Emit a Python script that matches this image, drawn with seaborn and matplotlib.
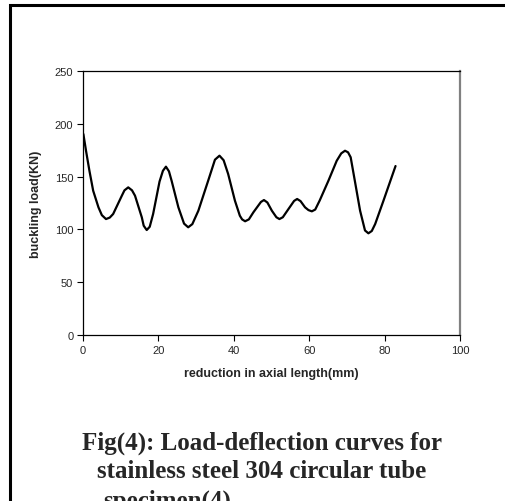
import matplotlib
matplotlib.use("Agg")
import matplotlib.pyplot as plt
import seaborn as sns
import pandas as pd
from matplotlib.patches import Rectangle

# Values
reduction_mm = [0.1, 0.8, 1.7, 2.7, 4.1, 5.0, 6.1, 7.1, 8.0, 10.3, 11.0, 12.0, 13.0, 13.8, 15.6,
                16.1, 16.9, 17.7, 18.6, 20.3, 21.2, 22.0, 22.8, 23.5, 25.3, 26.8, 27.9, 29.0,
                30.6, 33.2, 35.0, 36.2, 37.3, 38.5, 40.3, 41.6, 42.2, 43.0, 44.0, 45.2,
                47.2, 48.0, 48.9, 50.1, 51.3, 52.1, 53.0, 54.5, 56.0, 56.8, 57.7, 58.9,
                59.8, 60.7, 61.6, 62.8, 65.1, 67.3, 68.5, 69.5, 70.3, 71.0, 72.1, 73.5,
                74.8, 75.7, 76.6, 77.5, 79.7, 82.9]
load_kn = [190.3, 174.5, 155.6, 136.6, 120.9, 113.5, 109.8, 111.2, 114.6, 131.9, 137.0, 139.8, 137.0, 131.9, 111.4,
           103.5, 99.4, 102.5, 114.6, 145.3, 155.5, 159.4, 155.0, 146.1, 120.9, 105.5, 102.0, 105.0,
           117.7, 146.1, 166.0, 169.8, 165.5, 152.5, 127.2, 113.0, 109.5, 107.7, 109.5, 116.2,
           126.0, 127.8, 125.5, 117.7, 111.5, 109.8, 111.5, 119.3, 127.0, 128.8, 126.8, 120.9,
           118.3, 117.1, 118.8, 127.5, 146.1, 165.0, 172.0, 174.5, 173.0, 168.3, 146.1, 117.7,
           99.0, 96.3, 98.5, 105.1, 127.2, 160.0]
x_ticks = [0, 20, 40, 60, 80, 100]
y_ticks = [0, 50, 100, 150, 200, 250]
x_label = "reduction in axial length(mm)"
y_label = "buckling load(KN)"
caption_lines = ["Fig(4): Load-deflection curves for",
                 "stainless steel 304 circular tube",
                 "specimen(4)"]

sns.set_theme(style="white")
plt.rcParams['font.family'] = ['Liberation Sans', 'DejaVu Sans']

W, H = 506, 502
fig = plt.figure(figsize=(W / 100, H / 100), dpi=100)
ax = fig.add_axes([83 / W, 1 - 336 / H, (460 - 83) / W, (336 - 72) / H])

df = pd.DataFrame({"x": reduction_mm, "y": load_kn})
sns.lineplot(data=df, x="x", y="y", ax=ax, color="black", linewidth=1.6, sort=False)
for ln in ax.lines:
    ln.set_solid_joinstyle("round")
    ln.set_solid_capstyle("round")

ax.set_xlim(0, 100)
ax.set_ylim(0, 250)
ax.set_xticks(x_ticks)
ax.set_yticks(y_ticks)
ax.tick_params(axis="both", direction="out", length=4, width=0.8, color="black",
               labelsize=8, pad=3, bottom=True, left=True)
ax.set_xlabel(x_label, fontsize=9, fontweight="bold", labelpad=9)
ax.set_ylabel(y_label, fontsize=9, fontweight="bold", labelpad=9)

for side in ["left", "bottom", "top"]:
    ax.spines[side].set_color("black")
    ax.spines[side].set_linewidth(0.9)
ax.spines["right"].set_color("#808080")
ax.spines["right"].set_linewidth(1.6)
for side in ax.spines:
    ax.spines[side].set_visible(True)

# page frame
fig.patches.append(Rectangle((10 / W, -0.2), 1.2, 1 - 6 / H + 0.2, transform=fig.transFigure,
                             fill=False, edgecolor="black", linewidth=2.2))

serif = ['Liberation Serif', 'DejaVu Serif']
fig.text(262 / W, 1 - 443 / H, caption_lines[0], ha="center", va="center",
         fontsize=18, fontweight="bold", family=serif)
fig.text(262 / W, 1 - 472 / H, caption_lines[1], ha="center", va="center",
         fontsize=18, fontweight="bold", family=serif)
fig.text(103 / W, 1 - 501 / H, caption_lines[2], ha="left", va="center",
         fontsize=18, fontweight="bold", family=serif)

fig.savefig("out.png", dpi=100)
